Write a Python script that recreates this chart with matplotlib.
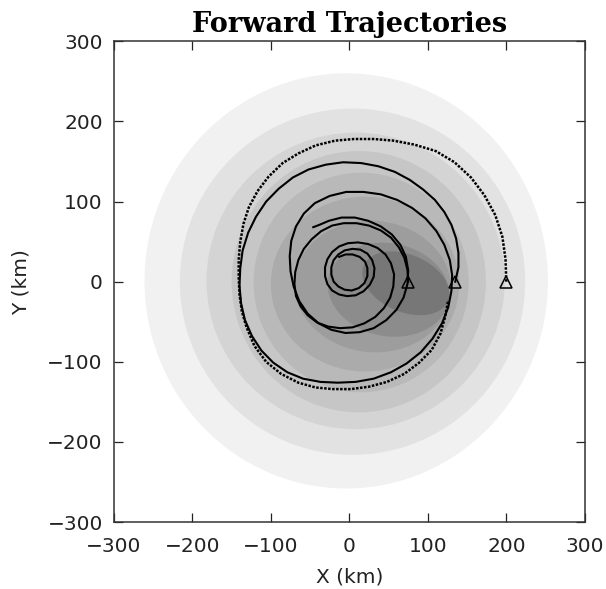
import matplotlib
matplotlib.use('Agg')
import matplotlib.pyplot as plt
from matplotlib.patches import Ellipse

# shaded contour bands, outermost first: centre x, centre y, half width, half height, tilt, grey
band_cx = [-4, 4, 8, 12, 15, 20, 30, 50, 72]
band_cy = [1, 0, 1, 0, -1, -3, -6, -10, -2]
band_a = [257, 220, 190, 162, 137, 120, 100, 78, 58]
band_b = [259, 216, 185, 163, 137, 109, 82, 58, 36]
band_tilt = [0, 0, 0, 0, 0, 0, -5, -10, -22]
band_grey = [0.945, 0.885, 0.83, 0.775, 0.725, 0.67, 0.615, 0.55, 0.465]

# start points (triangles)
start_x = [75, 135, 200]
start_y = [0, 0, 0]

# trajectory from x=200 (dotted)
traj_a_x = [200, 199, 195, 186, 172, 155, 134, 110, 83, 56, 31, 6, -18, -43, -65,
            -85, -103, -117, -128, -135, -139, -141, -141, -140, -137, -131, -121,
            -106, -87, -65, -43, -21, 2, 25, 48, 70, 89, 105, 116, 122, 126]
traj_a_y = [0, 28, 56, 83, 108, 130, 149, 163, 171, 176, 178, 178, 176, 170, 160,
            148, 131, 113, 93, 72, 50, 28, 5, -16, -37, -57, -80,
            -100, -115, -126, -132, -134, -134, -131, -125, -115, -101, -85, -65, -44, -23]

# trajectory from x=135
traj_b_x = [135, 139, 139, 136, 130, 121, 109, 94, 77, 58, 37, 15, -8, -30, -52,
            -72, -90, -106, -119, -129, -136, -139, -140, -138, -133, -124, -112,
            -97, -79, -59, -37, -15, 8, 31, 53, 73, 91, 106, 118, 126, 130, 131,
            128, 121, 111, 97, 80, 61, 40, 18, -4, -25, -44, -58, -68, -74, -76,
            -75, -71, -64, -53, -39, -23, -5, 13, 31, 47, 60, 69, 74, 75, 72, 65,
            54, 40, 24, 7, -10, -26, -38, -46]
traj_b_y = [0, 18, 36, 54, 71, 87, 102, 115, 127, 137, 144, 148, 149, 146, 140,
            130, 116, 100, 81, 61, 39, 17, -5, -27, -48, -68, -86,
            -101, -113, -121, -125, -126, -125, -121, -113, -102, -88, -71, -52, -32, -12, 8,
            27, 46, 63, 79, 92, 102, 109, 112, 112, 107, 98, 85, 69, 51, 32,
            13, -6, -24, -40, -52, -60, -64, -63, -58, -48, -35, -20, -3, 14, 31, 46,
            59, 69, 76, 80, 80, 76, 71, 68]

# trajectory from x=75
traj_c_x = [75, 74, 70, 63, 53, 40, 25, 9, -7, -22, -36, -48, -58, -65, -69, -70,
            -68, -62, -53, -41, -27, -12, 4, 19, 33, 44, 52, 56, 57, 53, 46, 36, 24,
            11, -2, -13, -22, -28, -31, -31, -28, -22, -13, -3, 8, 18, 26, 31, 32,
            29, 23, 14, 4, -6, -14, -20, -23, -23, -20, -14, -6, 3, 12, 19, 23, 23,
            20, 13, 4, -5, -13]
traj_c_y = [0, 15, 30, 43, 55, 64, 70, 73, 73, 70, 63, 53, 41, 27, 12, -3,
            -18, -31, -42, -51, -56, -58, -57, -52, -44, -33, -20, -6, 9, 23, 34, 42, 47,
            49, 48, 44, 37, 28, 18, 7, -3, -11, -16, -18, -17, -12, -4, 6, 17,
            27, 35, 40, 41, 39, 34, 27, 18, 9, 0, -6, -10, -11, -8, -2, 7, 17,
            25, 31, 34, 34, 31]

ticks = [-300, -200, -100, 0, 100, 200, 300]

plt.rcParams['font.family'] = 'DejaVu Sans'

fig = plt.figure(figsize=(6.06, 5.89), dpi=100)
ax = fig.add_axes([0.188, 0.1135, 0.777, 0.8165])

for i in range(len(band_cx)):
    ax.add_patch(Ellipse((band_cx[i], band_cy[i]), 2 * band_a[i], 2 * band_b[i],
                         angle=band_tilt[i], facecolor=str(band_grey[i]),
                         edgecolor='none', zorder=1 + i))

ax.plot(traj_a_x, traj_a_y, color='black', linewidth=1.8,
        linestyle=(0, (1.0, 0.6)), zorder=20)
ax.plot(traj_b_x, traj_b_y, color='black', linewidth=1.5, zorder=20,
        solid_joinstyle='round')
ax.plot(traj_c_x, traj_c_y, color='black', linewidth=1.5, zorder=20,
        solid_joinstyle='round')
ax.plot(start_x, start_y, linestyle='none', marker='^', markersize=8,
        markerfacecolor='none', markeredgecolor='black', markeredgewidth=1.1,
        zorder=21)

ax.set_xlim(-300, 300)
ax.set_ylim(-300, 300)
ax.set_xticks(ticks)
ax.set_yticks(ticks)
ax.tick_params(direction='in', length=6.5, width=0.9, top=True, right=True,
               labelsize=14.5, colors='#222222', pad=8)
ax.tick_params(axis='x', pad=11)
for s in ax.spines.values():
    s.set_linewidth(1.1)
    s.set_color('#333333')

ax.set_xlabel('X (km)', fontsize=14.5, color='#222222', labelpad=8)
ax.set_ylabel('Y (km)', fontsize=14.5, color='#222222', labelpad=12)
ax.set_title('Forward Trajectories', fontfamily='DejaVu Serif', fontweight='bold',
             fontsize=19.5, pad=7)

fig.savefig('out.png', dpi=100)
